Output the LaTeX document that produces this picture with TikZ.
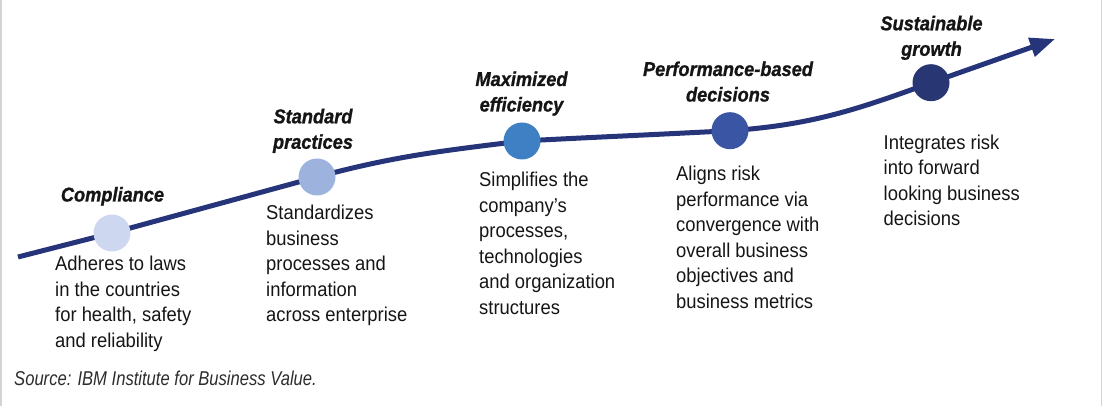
\documentclass[tikz,border=0pt]{standalone}
\usepackage{fontspec}
\setmainfont[FakeStretch=0.92]{Liberation Sans}
\newfontfamily\srcfont[FakeStretch=0.83]{Liberation Sans}
\newfontfamily\headfont[FakeStretch=0.91,FakeBold=1.1]{Liberation Sans}
\usetikzlibrary{arrows.meta}
\definecolor{navy}{HTML}{26357A}
\definecolor{stageA}{HTML}{CDD8F0}
\definecolor{stageB}{HTML}{9DB3DD}
\definecolor{stageC}{HTML}{3F80C5}
\definecolor{stageD}{HTML}{3A55A4}
\definecolor{stageE}{HTML}{283773}
\definecolor{txt}{HTML}{151515}
\definecolor{framegray}{HTML}{D4D4D4}
\begin{document}
\begin{tikzpicture}[x=1pt,y=1pt,
	stage/.style={circle,minimum size=37pt,inner sep=0pt},
	title/.style={align=center,anchor=south,inner sep=0pt,text=txt,
		font=\headfont\fontsize{20}{25.5}\selectfont\bfseries\itshape},
	desc/.style={align=left,anchor=north west,inner sep=0pt,text=txt,
		font=\fontsize{20}{25.5}\selectfont},
	trend/.style={draw=navy,line width=5pt},
	frame/.style={draw=framegray,line width=1.5pt}]
			\useasboundingbox (0,0) rectangle (1104,406);
			\draw[frame] (0.75,0) -- (0.75,406);
			\draw[frame] (1101.25,0) -- (1101.25,406);
			
			\coordinate (S) at (18,149);
			\coordinate (P1) at (112,173);
			\coordinate (P2) at (317,229);
			\coordinate (P3) at (522,265);
			\coordinate (P4) at (730,275.3);
			\coordinate (P5) at (931,323.3);
			\coordinate (E) at (1055,367);
			
			\draw[trend,-{Triangle[length=25pt,width=19pt]}] (S) -- (P1) -- (P2)
				to[out=15,in=187] (P3) to[out=3,in=183] (P4)
				to[out=4,in=200] (P5) -- (E);
			
			\node[stage,fill=stageA] (A) at (P1) {};
			\node[stage,fill=stageB] (B) at (P2) {};
			\node[stage,fill=stageC] (C) at (P3) {};
			\node[stage,fill=stageD] (D) at (P4) {};
			\node[stage,fill=stageE] (F) at (P5) {};
			
			\node[title] (tA) at (112.5,196.65) {Compliance\strut};
			\node[title] (tB) at (313,249.35) {Standard\\practices\strut};
			\node[title] (tC) at (521.5,286.65) {Maximized\\efficiency\strut};
			\node[title] (tD) at (728,296.65) {Performance-based\\decisions\strut};
			\node[title] (tF) at (931.5,342.35) {Sustainable\\growth\strut};
			
			\node[desc] (dA) at (55,153.15) {\strut Adheres to laws\\in the countries\\for health, safety\\and reliability};
			\node[desc] (dB) at (266,204.5) {\strut Standardizes\\business\\processes and\\information\\across enterprise};
			\node[desc] (dC) at (479,237.15) {\strut Simplifies the\\company’s\\processes,\\technologies\\and organization\\structures};
			\node[desc] (dD) at (676,243.15) {\strut Aligns risk\\performance via\\convergence with\\overall business\\objectives and\\business metrics};
			\node[desc] (dF) at (883.5,274.85) {\strut Integrates risk\\into forward\\looking business\\decisions};
			
			%\node (note) at (14,40) {};
			\node[anchor=base west,inner sep=0pt,text=txt!90,
				font=\srcfont\itshape\fontsize{20}{24}\selectfont] (src) at (14,20)
				{Source: IBM Institute for Business Value.};
\end{tikzpicture}
\end{document}
